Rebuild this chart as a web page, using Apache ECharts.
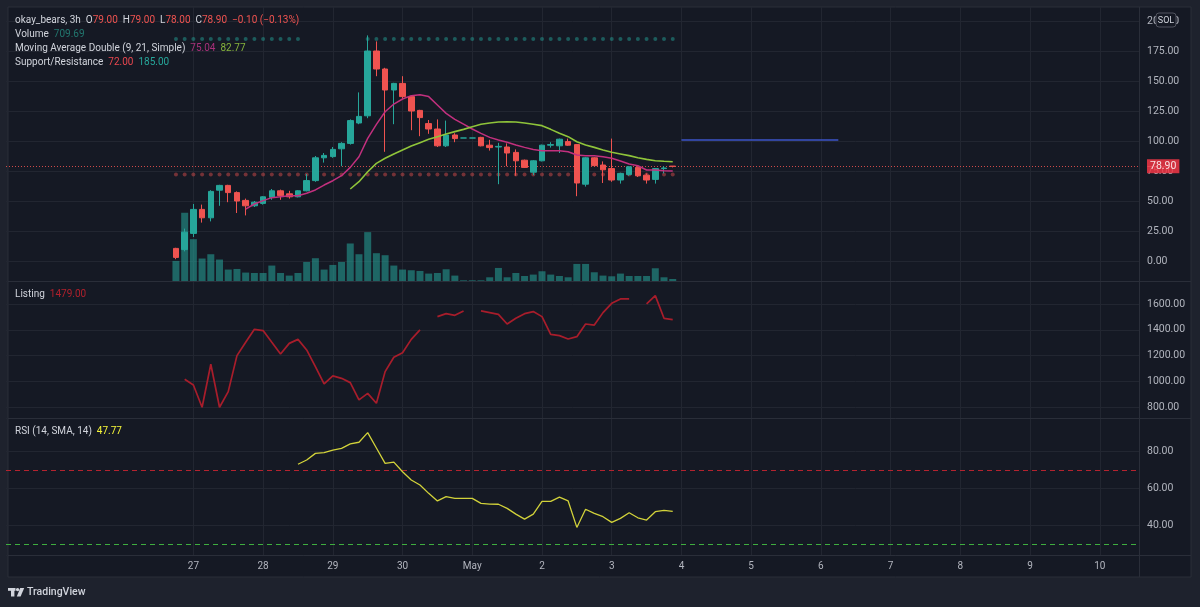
<!DOCTYPE html>
<html><head><meta charset="utf-8">
<script src="https://cdn.jsdelivr.net/npm/echarts@6/dist/echarts.min.js"></script>
<style>html,body{margin:0;padding:0;background:#1e222d;}#c{width:1200px;height:607px;}</style>
</head><body><div id="c"></div>
<script>
// ---- categories / tick labels ----
const days = ['24','25','26','27','28','29','30','May','2','3','4','5','6','7','8','9','10'];
const hours = ['00:00','03:00','06:00','09:00','12:00','15:00','18:00','21:00'];
const shownDays = ['27','28','29','30','May','2','3','4','5','6','7','8','9','10'];
const firstCategory = '24 09:00';
const lastCategory = '10 12:00';
const firstBar = '26 18:00';
const priceTicks = [0, 25, 50, 75, 100, 125, 150, 175, 200];

// ---- candles (3h) ----
const open  = [10.5,9.5,23,43,36,59,63,57,50.5,46,48,53,58.5,56,53.5,58.5,67,86,87,93.5,98,115,121,175,160,142.5,148,137,125.5,114.5,110,96,105,102.5,102.5,103,96.5,95,95,90.5,84,74,83.5,96.5,96,99.5,97,64,86,80,77,67.5,72,78,71.5,68,77,79];
const close = [3,24,43,36,58,63,57,50,46,49,53.5,58.5,54.5,53.5,58.5,67,86,88,93,98,117,120.5,175,160,142.5,148,137,125,119.5,110,96,105,102,102.5,102.5,96,94.5,95.5,90,83.5,78,83.5,96.5,97,101.5,96.5,65,86,79.5,76,67.5,73,78.5,71,67.5,77,77.5,78.9];
const low   = [1.5,8,20,32,33,46,49,40,38,45,47,51,51,52,53,58,66,82,86,79,97,114,119,154,91,114,135,109,104,106,95,95,99,102.5,102.5,95.5,92,64,79,71,77.5,71.5,83,94.5,90,96,54,62,79,65,66,64.5,71,70,64.5,64.5,73,78];
const high  = [11,27,47.5,47,59,63.5,63.5,58,52,50,54,60,59.5,58.5,59,72.5,87.5,90,95,99,118,140.5,188,183,161,148.5,154,138,126,117.5,118,117,106.5,102.5,102.5,103.5,101,98.5,98,93,84.5,84,97,99,102,102,97.5,86.5,86.5,83,102,73.5,79,79,73,77.5,79,79];
const volume = [7200,24480,15000,8060,9600,7700,4100,4320,3020,2880,2880,5540,2880,1940,2880,6840,8170,4100,5760,6840,13460,9600,17530,9970,9250,5540,4100,3850,3600,2660,2880,4210,1940,250,250,250,1330,4680,1330,2880,1800,2300,3490,2300,1800,1330,6120,6120,3130,1940,1690,2660,1800,1800,1800,4570,1330,709.69];
// moving averages (MA9 from bar 9, MA21 from bar 21)
const ma9 = [43.3,47.5,50.3,52.8,53.6,54.4,54.4,56.4,59.2,63.3,66.9,71.1,78,86.9,102.2,113.9,124.4,130.8,135,137.8,138.6,137,130,123,118,114,110,106.4,103,100.8,98.9,96.7,94.7,93,91.9,91.9,91.9,91.1,88.3,87.8,87.8,86.9,85.6,83.3,80.8,79.4,75.8,75.8,75.3,75.04];
const ma21 = [60,66.1,74.4,81.4,85.6,89.2,92.5,95.8,98.6,101.4,103.6,105.8,107.8,109.7,111.9,113.9,115,115.8,116.1,115.8,115,113.9,112.8,109.7,106.4,103.6,99.4,96.7,94.7,92.5,90.6,89.2,87.8,86.1,84.7,83.6,83.1,82.77];
const resistance = [185,185,185,185,185,185,185,185,185,185,185,185,185,185,185,null,null,null,null,null,null,null,185,185,185,185,185,185,185,185,185,185,185,185,185,185,185,185,185,185,185,185,185,185,185,185,185,185,185,185,185,185,185,185,185,185,185,185];
const support = [72,72,72,72,72,72,72,72,72,72,72,72,72,72,72,72,72,72,72,72,72,72,72,72,72,72,72,72,72,72,72,72,72,72,72,72,72,72,72,72,72,72,72,72,72,72,72,72,72,72,72,72,72,72,72,72,72,72];
// Listing (from bar 2) and RSI (from bar 15)
const listing = [1017,973,800,1133,800,921,1200,1303,1404,1394,1303,1213,1295,1326,1244,1115,981,1043,1024,991,857,908,831,1076,1187,1223,1326,1399,null,1502,1525,1512,1546,null,1546,1533,1520,1445,1489,1525,1541,1502,1365,1355,1329,1347,1445,1437,1533,1605,1639,1639,null,1600,1665,1489,1479];
const rsi = [73.2,75.5,79.1,79.5,80.9,81.8,84.2,85.1,90.3,82,73.7,74.4,69.2,64.7,62,57.5,53.4,55.7,54.8,54.8,54.8,52.1,51.7,51.6,49.4,46.3,43.6,46.3,53.2,53.2,55.5,53.4,39.1,48.9,46.7,44.9,41.8,44,47,44.3,43.1,47.6,48.3,47.77];
const trendLine = {from: '4 00:00', to: '6 06:00', price: 100.7};
const lastPrice = 78.9;
const rsiUpper = 70, rsiLower = 30;

// ---- build ----
const allSlots = days.flatMap(d => hours.map(h => d + ' ' + h));
const categories = allSlots.slice(allSlots.indexOf(firstCategory), allSlots.indexOf(lastCategory) + 1);
const start = categories.indexOf(firstBar);
function pad(arr, offset) {
  return categories.map((_, i) => {
    const j = i - start - offset;
    return (j >= 0 && j < arr.length && arr[j] != null) ? arr[j] : '-';
  });
}
const candleData = categories.map((_, i) => {
  const j = i - start;
  return (j >= 0 && j < open.length) ? [open[j], close[j], low[j], high[j]] : '-';
});

const FONT = 'Roboto, "Noto Sans", sans-serif';
const AX = '#b2b5be';
const GRIDC = '#222631';
const SEP = '#2a2e39';
const L = 6, R = 61;
const vLines = shownDays.map(d => ({xAxis: d + ' 00:00'}));
const vMark = {silent: true, symbol: ['none','none'], z: 1, label: {show: false},
  lineStyle: {color: GRIDC, width: 1, type: 'solid'}, emphasis: {disabled: true}, data: vLines};

const n = open.length - 1;
const chg = close[n] - open[n];
const chgPct = chg / open[n] * 100;
const fmt = v => v.toFixed(2);
const neg = v => (v < 0 ? '\u2212' : '') + Math.abs(v).toFixed(2);

const richBase = {
  t: {fill: '#d1d4dc', color: '#d1d4dc', fontSize: 10, fontFamily: FONT},
  r: {fill: '#ef5350', color: '#ef5350', fontSize: 10, fontFamily: FONT},
  v: {fill: '#22776f', color: '#22776f', fontSize: 10, fontFamily: FONT},
  m: {fill: '#a8307a', color: '#a8307a', fontSize: 10, fontFamily: FONT},
  g: {fill: '#86b43c', color: '#86b43c', fontSize: 10, fontFamily: FONT},
  s: {fill: '#e8474f', color: '#e8474f', fontSize: 10, fontFamily: FONT},
  k: {fill: '#26a69a', color: '#26a69a', fontSize: 10, fontFamily: FONT},
  d: {fill: '#b0202c', color: '#b0202c', fontSize: 10, fontFamily: FONT},
  y: {fill: '#f5f53a', color: '#f5f53a', fontSize: 10, fontFamily: FONT}
};
function legend(y, text) {
  return {type: 'text', x: 15, y: y, z: 60, silent: true,
    style: {text: text, rich: richBase, verticalAlign: 'middle', fontSize: 10, fontFamily: FONT, fill: '#d1d4dc'}};
}
function hline(y, x1, x2) {
  return {type: 'line', z: 40, silent: true, shape: {x1: x1, y1: y, x2: x2, y2: y}, style: {stroke: SEP, lineWidth: 1}};
}

const chart = echarts.init(document.getElementById('c'), null, {renderer: 'canvas', width: 1200, height: 607});
const xAxisBase = (gi, showLabels) => ({
  type: 'category', gridIndex: gi, data: categories, boundaryGap: true,
  axisLine: {show: false}, axisTick: {show: false}, splitLine: {show: false},
  axisLabel: showLabels ? {
    show: true, color: AX, fontSize: 10, fontFamily: FONT, margin: 6,
    interval: (idx, val) => { const p = val.split(' '); return p[1] === '00:00' && shownDays.includes(p[0]); },
    formatter: val => val.split(' ')[0]
  } : {show: false}
});
const yLabel = {color: AX, fontSize: 10.5, fontFamily: FONT, margin: 8};

chart.setOption({
  backgroundColor: '#1e222d',
  animation: false,
  grid: [
    {left: L, right: R, top: 21, height: 240, outerBoundsMode: 'none'},
    {left: L, right: R, top: 7, height: 274, outerBoundsMode: 'none'},
    {left: L, right: R, top: 281, height: 137, outerBoundsMode: 'none'},
    {left: L, right: R, top: 418, height: 137, outerBoundsMode: 'none'}
  ],
  xAxis: [xAxisBase(0, false), xAxisBase(1, false), xAxisBase(2, false), xAxisBase(3, true)],
  yAxis: [
    {type: 'value', gridIndex: 0, position: 'right', min: priceTicks[0], max: priceTicks[priceTicks.length-1], interval: 25,
     axisLine: {show: false}, axisTick: {show: false},
     axisLabel: Object.assign({formatter: v => v.toFixed(2), showMinLabel: true, showMaxLabel: true}, yLabel),
     splitLine: {lineStyle: {color: GRIDC, width: 1}}},
    {type: 'value', gridIndex: 1, min: 0, max: 98280, show: false, splitLine: {show: false}},
    {type: 'value', gridIndex: 2, position: 'right', min: 717, max: 1778, minInterval: 200, maxInterval: 200,
     axisLine: {show: false}, axisTick: {show: false},
     axisLabel: Object.assign({formatter: v => (Math.abs(v % 200) < 1e-6 ? v.toFixed(2) : '')}, yLabel),
     splitLine: {lineStyle: {color: GRIDC, width: 1}}},
    {type: 'value', gridIndex: 3, position: 'right', min: 24.2, max: 98.2, minInterval: 20, maxInterval: 20,
     axisLine: {show: false}, axisTick: {show: false},
     axisLabel: Object.assign({formatter: v => (Math.abs(v % 20) < 1e-6 ? v.toFixed(2) : '')}, yLabel),
     splitLine: {lineStyle: {color: GRIDC, width: 1}}}
  ],
  series: [
    {type: 'bar', name: 'Volume', xAxisIndex: 1, yAxisIndex: 1, data: pad(volume, 0), barWidth: 7, z: 2,
     itemStyle: {color: 'rgba(38,166,154,0.55)'}, silent: true, markLine: vMark},
    {type: 'candlestick', name: 'okay_bears', xAxisIndex: 0, yAxisIndex: 0, data: candleData, barWidth: 6, z: 5,
     itemStyle: {color: '#26a69a', color0: '#ef5350', borderColor: '#26a69a', borderColor0: '#ef5350', borderWidth: 1},
     markLine: {silent: true, symbol: ['none','none'], z: 4, data: [
       {yAxis: lastPrice, lineStyle: {color: '#ef5350', width: 1, type: [1, 2], opacity: 0.85},
        label: {show: true, position: 'end', formatter: lastPrice.toFixed(2), color: '#ffffff', backgroundColor: '#f23645',
                fontSize: 10.5, fontFamily: FONT, padding: [2, 3, 1, 3], distance: 8}},
       [{coord: [trendLine.from, trendLine.price], lineStyle: {color: '#3c55c8', width: 1.5, type: 'solid'}, label: {show: false}},
        {coord: [trendLine.to, trendLine.price]}]
     ]}},
    {type: 'line', name: 'MA9', xAxisIndex: 0, yAxisIndex: 0, data: pad(ma9, 8), symbol: 'none', z: 6,
     lineStyle: {color: '#c2307e', width: 1.5}, silent: true},
    {type: 'line', name: 'MA21', xAxisIndex: 0, yAxisIndex: 0, data: pad(ma21, 20), symbol: 'none', z: 6,
     lineStyle: {color: '#8fc43a', width: 1.6}, silent: true},
    {type: 'scatter', name: 'Resistance', xAxisIndex: 0, yAxisIndex: 0, data: pad(resistance, 0), symbolSize: 4, z: 4,
     itemStyle: {color: 'rgba(38,166,154,0.6)'}, silent: true},
    {type: 'scatter', name: 'Support', xAxisIndex: 0, yAxisIndex: 0, data: pad(support, 0), symbolSize: 4, z: 4,
     itemStyle: {color: 'rgba(239,83,80,0.55)'}, silent: true},
    {type: 'line', name: 'Listing', xAxisIndex: 2, yAxisIndex: 2, data: pad(listing, 1), symbol: 'none', connectNulls: false, z: 5,
     lineStyle: {color: '#a81d2b', width: 1.7}, silent: true, clip: false, markLine: vMark},
    {type: 'line', name: 'RSI', xAxisIndex: 3, yAxisIndex: 3, data: pad(rsi, 14), symbol: 'none', z: 5,
     lineStyle: {color: '#d2d23a', width: 1.3}, silent: true,
     markLine: {silent: true, symbol: ['none','none'], z: 1, label: {show: false}, data: vLines.map(v => Object.assign({lineStyle: {color: GRIDC, width: 1, type: 'solid'}}, v)).concat([
       {yAxis: rsiUpper, lineStyle: {color: '#b4232f', width: 1, type: [5, 4]}},
       {yAxis: rsiLower, lineStyle: {color: '#3fae3f', width: 1, type: [5, 4]}}
     ])}}
  ],
  graphic: [
    {type: 'rect', z: -100, silent: true, shape: {x: 8, y: 7, width: 1183, height: 570}, style: {fill: '#151924', stroke: SEP, lineWidth: 1}},
    hline(281.5, 8, 1191), hline(418.5, 8, 1191), hline(555.5, 8, 1191),
    {type: 'line', z: 40, silent: true, shape: {x1: 1139.5, y1: 7, x2: 1139.5, y2: 577}, style: {stroke: SEP, lineWidth: 1}},
    legend(20, '{t|okay_bears, 3h}  {t|O}{r|' + fmt(open[n]) + '}  {t|H}{r|' + fmt(high[n]) + '}  {t|L}{r|' + fmt(low[n]) + '}  {t|C}{r|' + fmt(close[n]) + '}  {r|' + neg(chg) + ' (' + neg(chgPct) + '%)}'),
    legend(34, '{t|Volume}  {v|' + fmt(volume[n]) + '}'),
    legend(48, '{t|Moving Average Double (9, 21, Simple)}  {m|' + fmt(ma9[ma9.length-1]) + '}  {g|' + fmt(ma21[ma21.length-1]) + '}'),
    legend(62, '{t|Support/Resistance}  {s|' + fmt(support[n]) + '}  {k|' + fmt(resistance[n]) + '}'),
    legend(294, '{t|Listing}  {d|' + fmt(listing[listing.length-1]) + '}'),
    legend(431.5, '{t|RSI (14, SMA, 14)}  {y|' + fmt(rsi[rsi.length-1]) + '}'),
    {type: 'rect', z: 70, silent: true, shape: {x: 1156, y: 13, width: 20, height: 14, r: 3}, style: {fill: '#151924', stroke: '#50535e', lineWidth: 1}},
    {type: 'text', z: 71, silent: true, x: 1166, y: 20.5, style: {text: 'SOL', fill: '#d1d4dc', fontSize: 9, fontFamily: FONT, align: 'center', verticalAlign: 'middle'}},
    {type: 'group', z: 60, silent: true, children: [
      {type: 'rect', shape: {x: 8, y: 588, width: 7.5, height: 2.8}, style: {fill: '#d1d4dc'}},
      {type: 'rect', shape: {x: 11, y: 588, width: 3.4, height: 8.5}, style: {fill: '#d1d4dc'}},
      {type: 'circle', shape: {cx: 17.6, cy: 589.6, r: 1.7}, style: {fill: '#d1d4dc'}},
      {type: 'polygon', shape: {points: [[20.2, 588], [24.2, 588], [20.6, 596.5], [16.8, 596.5]]}, style: {fill: '#d1d4dc'}},
      {type: 'text', x: 27, y: 592.5, style: {text: 'TradingView', fill: '#d1d4dc', fontSize: 10.5, fontWeight: 500, fontFamily: FONT, verticalAlign: 'middle'}}
    ]}
  ]
});
</script>
</body></html>
